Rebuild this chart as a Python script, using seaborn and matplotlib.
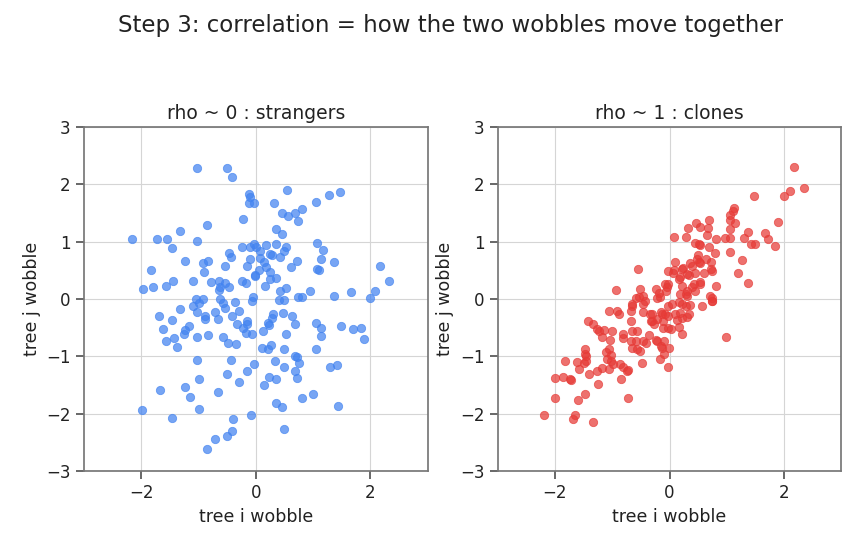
import matplotlib
matplotlib.use("Agg")
import matplotlib.pyplot as plt
import pandas as pd
import seaborn as sns

# values (two panels of tree wobbles)
strangers_x = [
    -1.02, -0.51, -0.42, -0.12, -0.10, -0.12, -0.03, -0.22, -0.86, -1.33,
    -2.16, -1.73, -1.55, -1.03, -1.47, -0.25, -0.11, -0.04, -0.47, -0.43,
    -1.23, -0.92, -0.84, -0.53, -0.15, -0.10, -0.90, -1.83, -0.02, -1.44,
    -1.09, -0.79, -0.64, -0.54, -0.46, -0.63, -0.64, -0.24, -0.18, -1.57,
    -1.80, -1.97, -0.05,
    0.54, 1.46, 1.27, 0.32, 1.05, 0.80, 0.68, 0.46, 0.57, 0.73,
    0.35, 0.46, 1.06, 0.18, 0.35, 0.53, 0.01, 1.18, 0.50, 0.08,
    0.25, 0.29, 0.42, 0.08, 1.13, 0.72, 1.37, 0.15, 2.16, 0.61,
    0.17, 1.06, 1.10, 0.24, 0.05, 0.35, 0.24, -0.01, 2.32, 0.16,
    0.53, 0.43, 0.95, 1.66, 2.08, 1.37, 0.74, 0.80, 1.99, 0.40, 0.49,
    -1.05, -1.00, -0.92, -0.62, -0.58, -0.36, -0.06, -1.10, -1.33, -1.02,
    -0.71, -0.53, -0.29, -1.69, -1.46, -0.88, -0.88, -0.66, -0.41, -0.33,
    -0.15, -0.15, -1.62, -1.16, -1.24, -1.26, -0.23, -0.17, -0.06, -1.57,
    -1.42, -1.02, -0.84, -0.57, -1.38, -0.48, -0.34, -1.03, -0.43, -0.03,
    -0.16, -0.51, -1.00, -0.29, -1.24, -1.68, -1.14, -0.66, -1.98, -1.00,
    -1.47, -0.39, -0.08, -0.42, -0.51, -0.72, -0.85,
    0.30, 0.29, 0.21, 0.23, 0.13, 0.47, 0.63, 0.68, 1.05, 1.14,
    1.13, 1.49, 1.70, 1.84, 1.88, 0.53, 0.11, 0.21, 0.27, 0.50,
    1.05, 0.68, 0.72, 0.76, 0.33, 0.49, 0.68, 0.72, 1.30, 1.42,
    0.23, 0.35, 0.14, 0.99, 0.81, 0.35, 0.46, 1.44, 0.50,
]
strangers_y = [
    2.28, 2.28, 2.12, 1.83, 1.77, 1.67, 1.67, 1.40, 1.29, 1.19,
    1.04, 1.04, 1.04, 1.01, 0.89, 0.91, 0.90, 0.95, 0.81, 0.73,
    0.66, 0.63, 0.66, 0.58, 0.58, 0.70, 0.47, 0.51, 0.41, 0.31,
    0.31, 0.30, 0.31, 0.27, 0.21, 0.21, 0.16, 0.31, 0.28, 0.22,
    0.20, 0.17, 0.03,
    1.90, 1.87, 1.81, 1.68, 1.69, 1.57, 1.50, 1.50, 1.44, 1.36,
    1.22, 1.13, 0.98, 0.94, 0.95, 0.91, 0.91, 0.85, 0.84, 0.84,
    0.79, 0.77, 0.73, 0.72, 0.70, 0.66, 0.64, 0.65, 0.58, 0.56,
    0.56, 0.52, 0.50, 0.47, 0.51, 0.37, 0.34, 0.40, 0.31, 0.23,
    0.19, 0.14, 0.14, 0.12, 0.14, 0.05, 0.03, 0.03, 0.02, -0.02, -0.02,
    0.00, -0.07, 0.00, 0.00, -0.07, -0.05, -0.03, -0.13, -0.18, -0.23,
    -0.23, -0.16, -0.21, -0.30, -0.36, -0.30, -0.35, -0.35, -0.30, -0.44,
    -0.38, -0.44, -0.53, -0.47, -0.54, -0.61, -0.50, -0.59, -0.62, -0.73,
    -0.68, -0.67, -0.63, -0.67, -0.84, -0.77, -0.79, -1.07, -1.07, -1.13,
    -1.26, -1.31, -1.40, -1.45, -1.54, -1.59, -1.71, -1.63, -1.93, -1.92,
    -2.08, -2.10, -2.03, -2.31, -2.39, -2.45, -2.61,
    -0.26, -0.34, -0.42, -0.46, -0.56, -0.24, -0.30, -0.44, -0.42, -0.51,
    -0.65, -0.47, -0.52, -0.51, -0.70, -0.61, -0.86, -0.88, -0.81, -0.88,
    -0.88, -1.00, -1.02, -1.12, -1.08, -1.18, -1.26, -1.38, -1.19, -1.16,
    -1.37, -1.40, -1.51, -1.66, -1.73, -1.82, -1.88, -1.87, -2.27,
]

clones_x = [
    2.17, 2.34, 2.10, 1.99, 1.48, 1.13, 1.10, 1.06, 1.05, 1.14,
    1.06, 1.90, 0.69, 0.46, 0.32, 0.53, 0.67, 0.07, 0.28, 0.66,
    0.81, 0.96, 1.06, 1.37, 1.30, 1.66, 1.71, 1.42, 1.49, 1.84,
    0.45, 0.52, 0.69, 0.80, 1.06, 1.27, 0.49, 0.63, 0.72, 0.74,
    0.10, 0.35, 0.51, 0.21, 0.31, 0.45, 0.60, 1.19, 1.37, 0.81,
    0.53, 0.42, 0.30, 0.45, 0.06, 0.16, -0.02, 0.71, 0.74, 0.18, 0.30,
    0.48, 0.24, 0.39, 0.54, 0.72, 0.19, 0.34, 0.22, 0.39, 0.54,
    0.28, 0.08, 0.54, 0.74,
    0.16, 0.21, 0.35, 0.56, 0.74, 0.10, 0.19, 0.13, 0.21, 0.31,
    -0.02, -0.02, 0.02, 0.16, 0.22, 0.99, -0.02, 0.34, 0.28,
    -0.55, -0.93, -0.03, -0.08, -0.52, -0.47, -0.59, -0.24, -0.18, -0.06,
    -0.21, -0.54, -0.42, -0.04, -0.16, 0.05, -0.30, -0.07, -0.65,
    -0.65, -0.47, -0.47, -0.91, -0.88, -1.06, -0.68, -0.68, -0.34, -0.30,
    -0.15, -0.12, -0.03, -0.12, -1.42, -1.34, -1.26, -1.23, -1.14, -1.01,
    -1.03, -1.17, -0.82, -0.81, -0.65, -0.56, -0.68, -0.59, -0.47, -0.36,
    -0.41, -0.24, -0.09, -0.15, -0.01, -0.65, -0.56, -1.05, -1.11, -1.02,
    -1.47, -1.46, -1.82, -1.61, -1.45, -1.58, -1.02, -0.99, -0.87, -0.82,
    -0.73, -1.05, -1.17, -1.26, -0.48, -0.17, -1.40, -1.25, -0.85, -2.00,
    -1.86, -1.74, -1.71, -2.00, -1.59, -1.47, -0.72, -2.19, -1.65, -1.68,
    -1.33,
    -0.33, -0.22, -0.13, -0.27, -0.22, -0.13, -0.51, -0.10, -0.74, -1.47,
    -1.50, -1.09,
]
clones_y = [
    2.30, 1.93, 1.88, 1.79, 1.79, 1.59, 1.54, 1.47, 1.37, 1.32,
    1.22, 1.34, 1.38, 1.32, 1.24, 1.25, 1.23, 1.08, 1.08, 1.11,
    1.05, 1.06, 1.06, 1.16, 1.06, 1.15, 1.04, 0.95, 0.95, 0.92,
    0.97, 0.95, 0.90, 0.80, 0.82, 0.68, 0.77, 0.69, 0.65, 0.49,
    0.64, 0.62, 0.64, 0.52, 0.43, 0.46, 0.46, 0.45, 0.27, 0.22,
    0.29, 0.26, 0.14, 0.14, 0.46, 0.34, 0.26, 0.05, 0.01, 0.08, 0.05,
    0.70, 0.54, 0.58, 0.62, 0.53, 0.39, 0.41, 0.23, 0.20, 0.26,
    0.09, 0.51, 0.94, -0.03,
    -0.06, -0.09, -0.11, -0.12, -0.04, -0.27, -0.24, -0.36, -0.33, -0.32,
    -0.12, -0.30, -0.53, -0.49, -0.62, -0.67, -1.18, -0.26, -0.12,
    0.53, 0.15, 0.48, 0.26, 0.17, 0.05, 0.01, 0.17, 0.11, 0.14,
    0.02, 0.03, -0.03, 0.20, 0.03, -0.09, -0.26, -0.26, -0.12,
    -0.09, -0.08, -0.22, -0.21, -0.27, -0.21, -0.21, -0.39, -0.27, -0.39,
    -0.22, -0.39, -0.50, -0.50, -0.39, -0.43, -0.52, -0.56, -0.54, -0.56,
    -0.72, -0.67, -0.62, -0.69, -0.56, -0.56, -0.74, -0.74, -0.74, -0.63,
    -0.77, -0.71, -0.73, -0.82, -0.85, -0.85, -0.88, -0.88, -0.92, -0.98,
    -0.88, -1.00, -1.09, -1.10, -1.08, -1.22, -1.08, -1.14, -1.13, -1.18,
    -1.24, -1.22, -1.21, -1.25, -1.12, -1.05, -1.31, -1.49, -1.40, -1.38,
    -1.36, -1.39, -1.42, -1.73, -1.77, -1.65, -1.73, -2.02, -2.02, -2.09,
    -2.14,
    -0.38, -0.35, -0.26, -0.44, -0.73, -0.85, -0.91, -0.96, -1.26, -0.96,
    -1.11, -1.05,
]

panels = [
    ("rho ~ 0 : strangers", strangers_x, strangers_y, "#4283f0"),
    ("rho ~ 1 : clones", clones_x, clones_y, "#e63a36"),
]

sns.set_theme(style="ticks")
plt.rcParams["font.family"] = ["DejaVu Sans"]
plt.rcParams["axes.edgecolor"] = "#777777"
plt.rcParams["text.color"] = "#222222"
plt.rcParams["axes.labelcolor"] = "#222222"
plt.rcParams["xtick.color"] = "#555555"
plt.rcParams["ytick.color"] = "#555555"
plt.rcParams["xtick.labelcolor"] = "#222222"
plt.rcParams["ytick.labelcolor"] = "#222222"

fig, axes = plt.subplots(1, 2, figsize=(8.56, 5.45), dpi=100)
fig.subplots_adjust(left=0.097, right=0.984, top=0.767, bottom=0.136, wspace=0.197)

for ax, (title, xs, ys, color) in zip(axes, panels):
    df = pd.DataFrame({"x": xs, "y": ys})
    sns.scatterplot(data=df, x="x", y="y", ax=ax, color=color, alpha=0.72,
                    s=36, edgecolor=color, linewidth=0.6)
    ax.set_xlim(-3, 3)
    ax.set_ylim(-3, 3)
    ax.set_aspect("equal")
    ax.set_xticks([-2, 0, 2])
    ax.set_yticks([-3, -2, -1, 0, 1, 2, 3])
    ax.grid(True, color="#d5d5d5", linewidth=0.8)
    ax.set_axisbelow(True)
    ax.set_title(title, fontsize=13.5)
    ax.set_xlabel("tree i wobble", fontsize=12.5)
    ax.set_ylabel("tree j wobble", fontsize=12.5)
    ax.tick_params(labelsize=12)

fig.suptitle("Step 3: correlation = how the two wobbles move together",
             fontsize=16.5, x=0.526, y=0.975)
fig.savefig("out.png", dpi=100)
